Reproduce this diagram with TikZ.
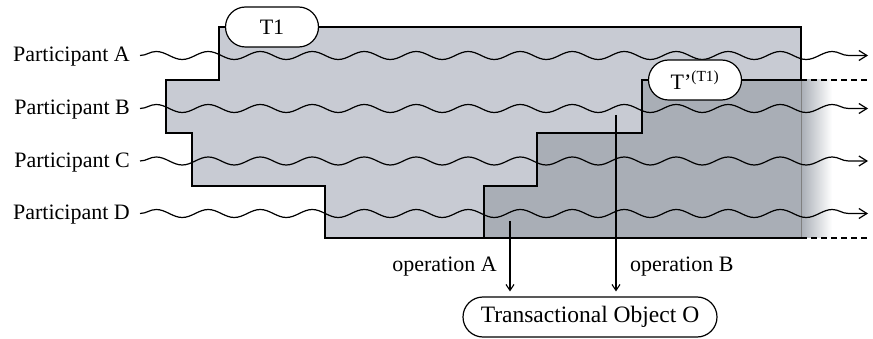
\documentclass[tikz,border=0pt]{standalone}
\usepackage{fontspec}
\setmainfont{Liberation Serif}
\usetikzlibrary{shapes.misc,decorations.pathmorphing,arrows.meta}
\definecolor{lightfill}{RGB}{200,203,211}
\definecolor{darkfill}{RGB}{169,174,182}
\begin{document}
\begin{tikzpicture}[x=1pt,y=-1pt,
  font=\fontsize{22}{26}\selectfont,
  lbl/.style={inner sep=0pt},
  pill/.style={rounded rectangle, draw, fill=white, line width=1.2pt, minimum height=40pt, inner sep=0pt},
  outline/.style={line width=1.6pt, line join=miter},
  wave/.style={line width=1.2pt, decorate, decoration={snake, segment length=52pt, amplitude=4pt, post length=12pt}, -{Straight Barb[length=8pt,width=10pt,line width=1.2pt]}},
  oparrow/.style={line width=1.1pt, -{Straight Barb[length=6pt,width=8pt,line width=1.1pt]}},
  dashline/.style={line width=1.2pt, dash pattern=on 6pt off 4pt}]
\useasboundingbox (0,0) rectangle (873,339);
% fills
\fill[lightfill] (219,27) -- (801,27) -- (801,238) -- (325,238) -- (325,186) -- (192,186) -- (192,133) -- (166,133) -- (166,80) -- (219,80) -- cycle;
\fill[darkfill] (484,238) -- (484,186) -- (537,186) -- (537,133) -- (642,133) -- (642,80) -- (801,80) -- (801,238) -- cycle;
\shade[left color=darkfill, right color=white] (801,80) rectangle (832,238);
% outlines
\draw[outline] (801,80) -- (801,27) -- (219,27) -- (219,80) -- (166,80) -- (166,133) -- (192,133) -- (192,186) -- (325,186) -- (325,238) -- (801,238);
\draw[outline] (484,238) -- (484,186) -- (537,186) -- (537,133) -- (642,133) -- (642,80) -- (801,80);
\draw[gray, line width=0.8pt] (801,80) -- (801,238);
\coordinate (d1s) at (801,80); \coordinate (d1e) at (868,80);
\coordinate (d2s) at (801,238); \coordinate (d2e) at (868,238);
\draw[dashline] (d1s) -- (d1e);
\draw[dashline] (d2s) -- (d2e);
% participants
\node[lbl, anchor=base east] (pA) at (130,62) {Participant A};
\node[lbl, anchor=base east] (pB) at (130,115) {Participant B};
\node[lbl, anchor=base east] (pC) at (130,168) {Participant C};
\node[lbl, anchor=base east] (pD) at (130,220) {Participant D};
\coordinate (sA) at (140,55.5); \coordinate (eA) at (868,55.5);
\coordinate (sB) at (140,108.5); \coordinate (eB) at (868,108.5);
\coordinate (sC) at (140,161); \coordinate (eC) at (868,161);
\coordinate (sD) at (140,213.5); \coordinate (eD) at (868,213.5);
\draw[wave] (sA) -- (eA);
\draw[wave] (sB) -- (eB);
\draw[wave] (sC) -- (eC);
\draw[wave] (sD) -- (eD);
% transaction nodes
\node[pill, minimum width=93pt] (t1) at (272,27) {T1};
\node[pill, minimum width=93pt] (t2) at (695,80) {T’\textsuperscript{(T1)}};
\node[pill, minimum width=254pt, font=\fontsize{23.5}{26}\selectfont] (obj) at (590,317) {Transactional Object O};
% operations
\coordinate (opA) at (510,221);
\coordinate (opB) at (616,115);
\draw[oparrow, shorten >=5pt] (opA) -- (opA |- obj.north);
\draw[oparrow, shorten >=5pt] (opB) -- (opB |- obj.north);
\node[lbl, anchor=base east] (labA) at (497,272) {operation A};
\node[lbl, anchor=base west] (labB) at (630,272) {operation B};
\end{tikzpicture}
\end{document}
